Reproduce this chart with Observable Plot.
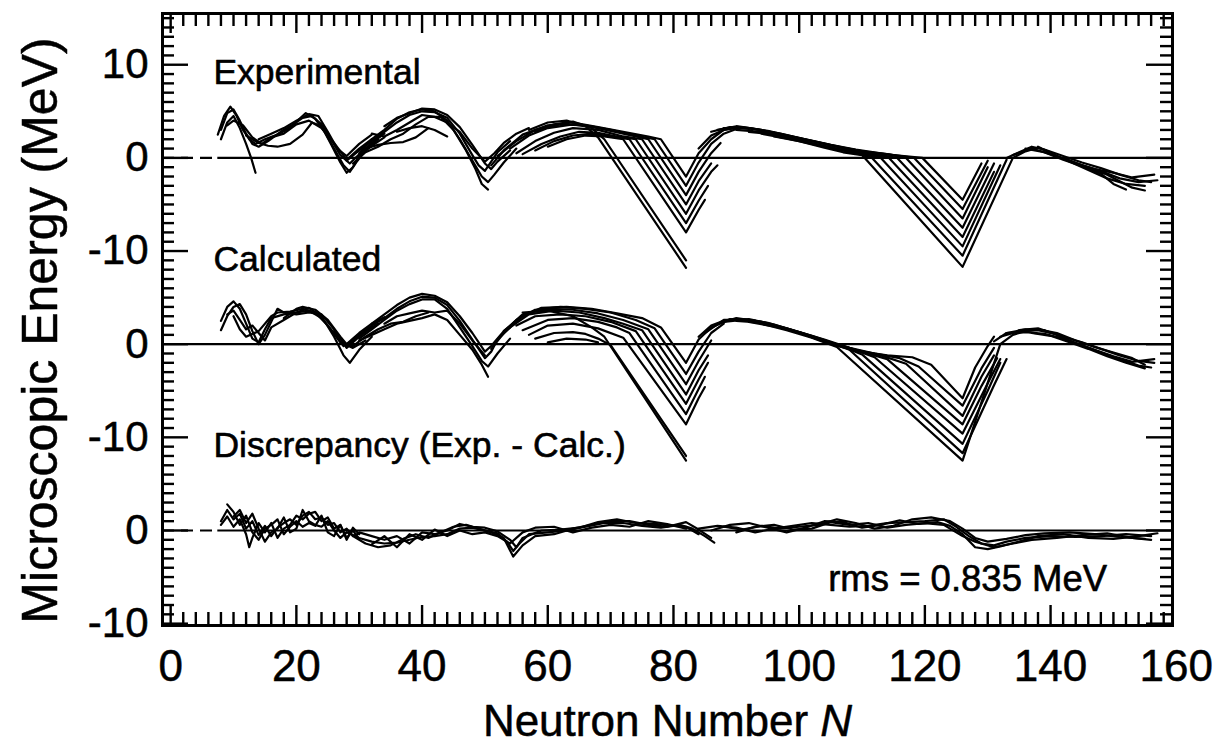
<!DOCTYPE html>
<html><head><meta charset="utf-8">
<script src="https://cdn.jsdelivr.net/npm/d3@7"></script>
<script src="https://cdn.jsdelivr.net/npm/@observablehq/plot@0.6"></script>
<style>html,body{margin:0;padding:0;background:#fff}
#chart svg g[aria-label$="tick label"] text{stroke:black;stroke-width:0.5px}</style>
</head><body><div id="chart"></div>
<script>
// ---------- DATA (N, microscopic energy in MeV) ----------
const panelNames = ["Experimental", "Calculated", "Discrepancy (Exp. - Calc.)"];
const rmsText = "rms = 0.835 MeV";
const xMajorTicks = [0, 20, 40, 60, 80, 100, 120, 140, 160];
const yTickValues = [50, 40, 30, 20, 10, 0, -10];
const yTickLabels = ["10", "0", "-10", "0", "-10", "0", "-10"];

// Experimental
const expLight = [
 [[7.5,2.5],[8.5,4.5],[9.5,5.5],[10.5,4.5],[11.5,3],[12.5,2],[13.5,1.5],[15,2],[17,2.5],[19,3.2],[20.5,4.2],[21.5,4.8],[23,4.2],[24.5,2.8],[26,1],[27.5,-0.8],[28.5,-1.5],[29.5,-0.5],[31,0.8],[33,2]],
 [[8,3],[9,4.8],[10,5.2],[11,4],[12,2.6],[13,1.5],[14,1.2],[15.5,1.8],[17.5,2.8],[19.5,3.6],[21,4.3],[22.5,4.5],[24,3.6],[25.5,2],[27,0.3],[28.5,-0.6],[30,0.4],[32,1.6],[34,2.6]],
 [[8,2],[9,3.8],[10,4.5],[11,3.2],[12,1.5],[12.8,0],[13.5,-1.6]],
 [[9,3.5],[10,4],[11.5,3.5],[13,2.2],[14.5,1.5],[16,2.2],[18,2.6],[20,3.6],[22,4],[24,3.2],[26,1.6],[28,-0.2],[30,1],[32,2]],
 [[12,2.4],[14,1.6],[15.5,1.3],[17,1.2],[19,1.5],[21,2.5],[22.5,3.8],[24,3.4],[25.5,1.5],[27,-0.5],[28,-1.6],[29,-1],[30,0.2],[32,1.3],[34,2.2]],
 [[14,2],[16,2.6],[18,3.2],[20,4],[22,4.7],[23.5,4.5],[25,2.8],[26.5,1],[28,0.2],[30,1.5],[32,2.5]]
];
const expMid = [
 [[28,-0.3],[30,0.8],[32,1.8],[34,2.8],[36,3.8],[38,4.6],[40,5],[42,4.9],[44,4.3],[46,2.6],[48,0.3],[49,-0.8],[50,-1.4],[51,-0.4],[52,0.6],[54,1.8]],
 [[30,0.5],[32,2],[34,3],[36,4.2],[38,4.9],[40,5.2],[42,5],[44,4],[46,2],[48,-0.3],[49.5,-2],[50.5,-2.6],[51.5,-1.8],[53,-0.5],[55,1]],
 [[29,-0.6],[31,0.6],[33,1.2],[35,2],[37,2.6],[39,3.6],[41,4.4],[43,4.4],[45,3],[47,0.8],[48.5,-1.2],[49.5,-2.8],[50.5,-3.4]],
 [[32,2.6],[34,2.3],[36,3],[38,3.8],[40,4.6],[42,4.4],[44,3.8],[46,2.8],[48,1],[50,-0.4],[51.5,0.5],[53,1.6],[55,2.6],[57,3.2]],
 [[31,1],[33,1.4],[35,1.6],[37,1.7],[39,2.2],[41,3.2]],
 [[34,3.4],[36,4.3],[38,4.8],[40,5.3],[42,5.2],[44,4.6],[46,3.3],[48,1.4],[50,-0.6],[51,-1.2],[52,-0.4],[54,0.8]],
 [[36,2.8],[38,3.2],[40,3.4],[42,3],[44,2.3]]
];
const expN82 = [
 [[51,-0.8],[53,0.8],[56,2.5],[60,3.5],[64,3.8],[68,3.3],[72,2.8],[76,2.3],[78,2],[82,-2],[84,0.5],[86,2],[88,3],[90,3.3],[92,3.1]],
 [[52,0.2],[55,1.8],[58,3],[62,3.6],[66,3.5],[70,3],[74,2.4],[77,2],[82,-3],[84,-0.5],[86,1.5],[88,2.6],[90,3.1]],
 [[54,1],[57,2.4],[60,3.2],[64,3.6],[68,3.2],[72,2.6],[76,2],[82,-4],[84,-1.5],[86,0.5],[87.5,1.6]],
 [[55,0.5],[58,1.8],[61,2.7],[64,3.2],[68,3],[72,2.3],[75,2],[82,-5],[84,-2.5],[86,-0.6]],
 [[56,0.4],[59,1.5],[62,2.3],[65,2.8],[68,2.7],[71,2.3],[74,2],[82,-6],[84,-3.5],[86,-1.5],[87,-0.8]],
 [[58,0.8],[61,1.8],[64,2.4],[67,2.6],[70,2.3],[73,2],[82,-7],[84,-4.6],[85.5,-3]],
 [[60,1.2],[63,2],[66,2.4],[69,2.3],[72,2],[82,-8],[84,-5.6],[85,-4.5]],
 [[58,2.8],[61,3.6],[64,3.9],[67,3.2],[69,2],[82,-11]],
 [[57,3],[60,3.8],[63,4],[66,3.4],[68,2.2],[82,-11.8]]
];
const expN126 = [
 [[84,1],[86,2.4],[88,3],[91,3.3],[95,2.9],[99,2.3],[103,1.7],[107,1.1],[111,0.6],[115,0.3],[119.6,0],[126,-4.5],[129,-0.6]],
 [[86,2.8],[89,3.3],[93,3.1],[97,2.6],[101,2],[105,1.4],[109,0.9],[113,0.5],[118.3,0],[126,-5.5],[130,-0.3]],
 [[87,3],[90,3.4],[94,3],[98,2.4],[102,1.8],[106,1.2],[110,0.7],[114,0.4],[117,0],[126,-6.5],[130,-1]],
 [[88,3.2],[92,3.2],[96,2.7],[100,2.1],[104,1.5],[108,0.9],[112,0.4],[115.6,0],[126,-7.5],[131,-0.6]],
 [[90,3],[94,2.8],[98,2.2],[102,1.6],[106,1],[110,0.5],[114.3,0],[126,-8.5],[131,-1.5]],
 [[92,2.8],[96,2.5],[100,1.9],[104,1.2],[108,0.7],[113,0],[126,-9.5],[132,-0.8]],
 [[94,2.6],[98,2.1],[102,1.5],[106,0.9],[109,0.5],[111.6,0],[126,-10.5],[133,-0.2]],
 [[96,2.3],[100,1.8],[104,1.1],[107,0.6],[110,0.3],[126,-11.7],[134,0],[136,0.7],[138,1.1],[140,0.6]]
];
const expHeavy = [
 [[133,0],[135,0.6],[137,1.2],[139,0.9],[142,0.2],[145,-0.5],[148,-1.1],[151,-1.8],[154,-2.4],[156,-2.6]],
 [[134,0.3],[137,1],[140,0.4],[143,-0.3],[146,-1],[149,-1.8],[151,-2.5],[153,-3.2],[155,-3.5]],
 [[136,1],[139,0.6],[142,-0.2],[145,-0.9],[148,-1.7],[150,-2.8],[152,-3.4]],
 [[138,1.2],[141,0.2],[144,-0.6],[147,-1.2],[150,-1.6],[153,-2.1],[156.5,-1.8]],
 [[140,0.5],[143,-0.4],[146,-1.3],[149,-2.2],[152,-2.8],[155,-3]],
 [[142,0],[145,-0.8],[148,-1.4],[151,-2.2],[154,-2.6],[157,-2.4]]
];

// Calculated
const calcLight = [
 [[8,2.5],[9,4],[10,4.6],[11,3.8],[12,2.2],[13,0.6],[14,0.2],[15,1.6],[16,2.8],[18,3.2],[20,3.4],[22,3.6],[24,2.8],[26,1.2],[27.5,-0.2],[29,0.4],[31,1.4],[33,2.2]],
 [[8,1.5],[9,3],[10,4],[11,4.3],[12,3.2],[13,1.4],[14,0],[15,1],[16,2.4],[17,3.8],[18,3.4],[20,3.2],[22,3.4],[24,3.2],[26,1.6],[28,-0.4],[30,0.8],[32,1.8]],
 [[9,3.2],[10,3.6],[11,2.6],[12,1.6],[13,2],[14,1.2],[15,0.4],[16,1.8],[18,2.6],[20,3.4],[22,3.9],[24,3],[26,0.8],[27.5,-1.2],[28.5,-2],[30,-0.6],[32,0.8]],
 [[10,3],[11,1.6],[12,0.8],[14,1.4],[16,3],[17,3.4],[19,3.5],[21,3.8],[23,3.4],[25,2],[27,0.2],[29,-0.4],[31,0.4]],
 [[18,2.8],[20,3.8],[21,4],[23,3.7],[25,2.6],[27,0.8],[28,0],[30,1.2],[32,2.2],[34,2.9]]
];
const calcMid = [
 [[28,-0.3],[30,1],[32,2],[34,2.8],[36,3.8],[38,4.6],[40,5.1],[42,5],[44,4.2],[46,2.5],[48,0.5],[50,-1.5],[51,-0.8],[52,0.5],[54,1.8]],
 [[30,0.6],[32,1.6],[34,2.6],[36,3.6],[38,4.3],[40,4.8],[42,4.8],[44,3.8],[46,1.8],[48,-0.2],[49.5,-1.8],[50.5,-2.4],[52,-1],[54,0.6]],
 [[32,2.2],[34,3.2],[36,4.2],[38,5],[40,5.4],[42,5.2],[44,4.5],[46,3],[48,1.2],[50,-0.8],[51,-0.2],[53,1.4],[55,2.5]],
 [[30,0.4],[32,1],[34,1.6],[36,2.2],[38,2.5],[40,2.8],[42,3.2],[44,2.6],[46,1],[48,-0.6],[49.5,-2.2],[50.5,-3.5]],
 [[34,2.2],[36,3],[38,3.3],[40,3.6],[42,3.4],[44,3.6],[46,2.2],[48,0.4],[50,-1.2]],
 [[26,1.4],[28,-0.1],[29,-0.2],[31,0.8],[33,1.6],[35,2.2],[37,2.4],[39,3],[41,3.4]]
];
const calcN82 = [
 [[51,-0.5],[53,1.2],[56,3],[59,3.9],[63,4],[67,3.8],[71,3.3],[75,2.8],[78,1.8],[82,-2],[84,0.5],[86,1.8],[88,2.4]],
 [[52,0.5],[55,2.6],[58,3.7],[62,4],[66,3.8],[70,3.4],[74,2.6],[77,1.7],[82,-3.2],[84,-0.8],[86,1.2],[88,2.2]],
 [[53,1.4],[56,3.2],[60,3.8],[64,3.7],[68,3.3],[72,2.6],[76,1.6],[82,-4.3],[84,-1.8],[86,0.4]],
 [[54,1.8],[57,3.2],[61,3.6],[65,3.4],[69,2.8],[72,2.2],[75,1.5],[82,-5.4],[84,-2.8],[85.5,-1.2]],
 [[55,2],[58,3],[62,3.2],[66,3],[70,2.4],[74,1.4],[82,-6.4],[84,-3.8],[85.5,-2]],
 [[56,1.5],[60,2.6],[64,2.8],[68,2.4],[71,1.8],[73,1.2],[82,-7.5],[84,-4.8],[85,-3.5]],
 [[57,1],[60,2],[64,2.2],[68,1.7],[72,0.7],[82,-8.6],[84,-5.8],[85,-4.6]],
 [[58,0.6],[61,1.2],[64,1.3],[66,1.1],[68,0.6],[70,-0.1],[82,-12]],
 [[56,3.4],[60,3.6],[64,3],[67,1.8],[69,0.8],[82,-12.5]],
 [[60,0.2],[63,0.6],[66,0.5],[68,0.2]]
];
const calcN126 = [
 [[84,0.8],[86,2],[88,2.5],[91,2.7],[95,2.3],[99,1.5],[103,0.5],[106,-0.2],[110,-0.8],[114,-1.2],[118,-1.4],[121,-2.2],[126,-5.8],[128,-2.5],[130,-0.2],[131,0.8]],
 [[85,1.2],[88,2.6],[92,2.6],[96,2],[100,1.2],[104,0.3],[108,-0.4],[112,-1],[116,-1.5],[119,-2.4],[126,-6.6],[129,-2.6],[131,-0.4]],
 [[86,1.8],[89,2.7],[93,2.5],[97,1.8],[101,1],[105,0.1],[109,-0.6],[113,-1.2],[117,-2.1],[126,-7.7],[129,-3.5],[131,-1.2]],
 [[87,2.2],[90,2.8],[94,2.4],[98,1.6],[102,0.8],[106,0],[110,-0.8],[114,-1.6],[126,-8.6],[129,-4.5],[131.5,-1.5]],
 [[88,2.4],[92,2.7],[96,2.1],[100,1.3],[104,0.5],[108,-0.4],[112,-1.4],[126,-9.6],[130,-4.2],[132,-1.6]],
 [[90,2.5],[94,2.3],[98,1.7],[102,0.9],[106,0],[110,-1.1],[126,-10.7],[130,-5],[132,-2]],
 [[92,2.4],[96,1.9],[100,1.3],[104,0.4],[108,-0.6],[126,-11.7],[131,-4.4],[133,-1.6]],
 [[94,2.2],[98,1.5],[102,0.7],[106,-0.3],[126,-12.5],[132,0],[134,1],[136,1.4],[138,1.5],[140,1.2]]
];
const calcHeavy = [
 [[131,0.3],[133,1.2],[136,1.6],[139,1.5],[142,0.8],[145,0.2],[148,-0.5],[151,-1.2],[154,-1.8],[156.5,-2]],
 [[132,0.8],[135,1.4],[138,1.6],[141,1.2],[144,0.4],[147,-0.3],[150,-0.9],[153,-1.5],[155,-2.2]],
 [[133,1.2],[136,1.3],[139,1.1],[142,0.6],[145,-0.1],[148,-0.9],[151,-1.6],[154,-2.3],[156,-2.5]],
 [[135,1.5],[138,1.7],[141,1],[144,0.1],[147,-0.6],[150,-1.3],[153,-1.9],[156.5,-1.6]],
 [[137,1.2],[140,0.9],[143,0.2],[146,-0.5],[149,-1.3],[152,-2],[155,-2.6]]
];

// Discrepancy (Exp. - Calc.)
const discLight = [
 [[8,1],[9,2.2],[10,1.2],[11,1.8],[12,0.2],[13,1],[14,-0.5],[15,0.5],[16,-0.6],[17,0.3],[18,0.8],[19,1.2],[20,0.6],[21,1.6],[22,2],[23,1.2],[24,1.4],[25,0.6],[26,0.8],[27,-0.2],[28,0.2],[29,-0.6],[30,-0.3]],
 [[8,0.6],[9,1.5],[10,0.4],[11,1.2],[12,-0.4],[12.5,-1.8],[13,-0.8],[14,0.8],[15,-0.2],[16,0.8],[17,-0.8],[18,0.2],[19,0.6],[20,1.6],[21,1.2],[22,1.8],[23,2],[24,1],[25,1.4],[26,0.2],[27,0.6],[28,-0.8],[29,0],[30,-0.9]],
 [[9,2.8],[10,2],[11,0.6],[12,1.6],[13,-0.2],[14,-1],[15,0.2],[16,0.6],[17,1.2],[18,-0.4],[19,0.4],[20,1],[21,0.4],[22,0.8],[23,0.5],[24,1.6],[25,-0.2],[26,-0.6],[27,0.6],[28,-1],[29,0.3],[30,-0.4]],
 [[10,1.5],[11,2.2],[12,0.8],[13,1.8],[14,0.2],[15,-1.2],[16,-0.2],[17,0.2],[18,1.4],[19,-0.2],[20,0.2],[21,2.2],[22,1],[23,0.6],[24,0.4],[25,1],[26,0],[27,-0.8],[28,-0.2]]
];
const discMid = [
 [[28,-0.2],[30,-0.8],[32,-1.2],[34,-1.4],[36,-1.3],[38,-1],[40,-0.7],[42,-0.6],[44,-0.4],[46,0.2],[48,0.3],[50,0],[52,-0.3],[53.5,-1.2],[54.5,-2.2],[55.5,-1.4],[57,-0.4],[60,-0.2],[63,0],[66,0.4],[69,0.8],[72,0.8],[75,0.5],[78,0.3],[81,0.6],[83,0.2],[85,-0.6],[86.5,-1.3]],
 [[29,-0.6],[31,-1.4],[33,-1.8],[35,-1.6],[37,-0.9],[39,-0.4],[41,-0.8],[43,-0.2],[45,0.4],[47,0.6],[49,0.2],[51,-0.2],[53,-0.8],[54.5,-2.8],[56,-1.6],[58,-0.6],[61,-0.4],[64,0.2],[67,0.6],[70,1],[73,1],[76,0.6],[79,0.4],[82,0.9],[84,0.1],[86,-0.8]],
 [[30,-0.2],[32,-0.6],[34,-1],[36,-0.6],[38,-1.4],[40,-0.2],[42,-0.4],[44,0],[46,0.7],[48,0.4],[50,0.3],[52,-0.1],[54,-1],[55,-1.8],[56,-0.8],[59,0],[62,0.1],[65,0.3],[68,0.9],[71,1.2],[74,0.8],[77,0.7],[80,0.5],[82,0.4],[84,-0.4]],
 [[32,-1.5],[34,-0.6],[36,-1.8],[38,-0.4],[40,-1],[42,0.1],[44,-0.6],[46,0],[48,-0.4],[50,-0.2],[52,-0.6],[54,-1.4],[56,-0.2],[58,0.3],[61,0.4],[64,-0.2],[67,0.3],[70,0.6],[73,0.4],[76,1],[79,0.7],[82,0.2]]
];
const discHeavy = [
 [[84,0.2],[87,0.5],[90,0.3],[93,-0.2],[96,0.2],[99,0.5],[102,0.8],[105,0.6],[108,0.4],[111,0.5],[114,0.8],[117,0.9],[120,1],[123,1.2],[125,0.4],[127,-0.6],[129,-1.4],[131,-1.6],[133,-1.2],[136,-0.8],[140,-0.6],[144,-0.7],[148,-0.6],[152,-0.4],[156,-0.6]],
 [[86,0],[89,0.6],[92,0.8],[95,0.3],[98,-0.2],[101,0.3],[104,1],[107,0.9],[110,0.3],[113,0.6],[116,1.1],[119,0.7],[122,0.9],[124,0.5],[126,-0.4],[128,-1.8],[130,-2],[132,-1.7],[135,-1.2],[138,-0.6],[142,-0.4],[146,-0.8],[150,-0.9],[154,-0.6],[157,-0.3]],
 [[88,0.4],[91,0.1],[94,0.5],[97,0.2],[100,0.4],[103,0.6],[106,1.2],[109,0.8],[112,0.2],[115,0.5],[118,1.2],[121,1.4],[124,1],[126,0.2],[128,-0.8],[130,-1.2],[133,-0.9],[136,-0.5],[139,-0.3],[143,-0.2],[147,-0.4],[151,-0.7],[155,-0.9]],
 [[90,-0.2],[93,0.4],[96,0.6],[99,0.1],[102,0.2],[105,0.9],[108,0.6],[111,0.8],[114,0.3],[117,0.6],[120,0.8],[123,0.6],[126,-0.6],[128,-1.2],[131,-1.8],[134,-1.4],[137,-1],[141,-0.8],[145,-0.5],[149,-0.3],[153,-0.8],[156,-1]]
];

// ---------- BUILD ----------
const panelOffsets = [40, 20, 0]; // each panel stacked on one continuous axis
const panelGroups = [
  [expLight, expMid, expN82, expN126, expHeavy],
  [calcLight, calcMid, calcN82, calcN126, calcHeavy],
  [discLight, discMid, discHeavy]
];
const rows = [];
let sid = 0;
panelGroups.forEach((groups, p) => {
  for (const g of groups) for (const chain of g) {
    sid++;
    for (const [n, e] of chain) rows.push({series: sid, N: n, E: e, Y: e + panelOffsets[p]});
  }
});

const W = 1216, H = 746, mL = 162, mR = 44, mT = 13, mB = 121;
const xDomain = [-1.3, 159.4];
const yDomain = [-10.2, 55.5];
const pxX = (W - mL - mR) / (xDomain[1] - xDomain[0]);
const pxY = (H - mT - mB) / (yDomain[1] - yDomain[0]);
const xMinor = d3.range(0, 160, 2).filter(d => d % 20 !== 0);
const xMajor = xMajorTicks.filter(d => d <= xDomain[1]);
const yMinor = d3.range(-10, 56, 1).filter(d => d % 10 !== 0);
const yLabelMap = new Map(yTickValues.map((v, i) => [v, yTickLabels[i]]));
const font = "Liberation Sans, Arial, Helvetica, sans-serif";

const labelRows = panelNames.map((t, i) => ({t, N: 6.8, Y: panelOffsets[i] + 7.9}));

// inward tick helpers (lengths in pixels)
const xTicks = (vals, len) => [
  Plot.ruleX(vals, {x: d => d, y1: yDomain[0], y2: yDomain[0] + len / pxY, stroke: "black", strokeWidth: 2.4}),
  Plot.ruleX(vals, {x: d => d, y1: yDomain[1] - len / pxY, y2: yDomain[1], stroke: "black", strokeWidth: 2.4})
];
const yTicks = (vals, len) => [
  Plot.ruleY(vals, {y: d => d, x1: xDomain[0], x2: xDomain[0] + len / pxX, stroke: "black", strokeWidth: 2.4}),
  Plot.ruleY(vals, {y: d => d, x1: xDomain[1] - len / pxX, x2: xDomain[1], stroke: "black", strokeWidth: 2.4})
];

const chart = Plot.plot({
  width: W, height: H,
  marginLeft: mL, marginRight: mR, marginTop: mT, marginBottom: mB,
  style: {fontFamily: font, background: "white", color: "black"},
  x: {domain: xDomain},
  y: {domain: yDomain},
  marks: [
    // zero lines
    Plot.ruleY([40, 0], {x1: xDomain[0], x2: 7.5, stroke: "black", strokeWidth: 2.2, strokeDasharray: "12,7"}),
    Plot.ruleY([40, 0], {x1: 7.5, x2: xDomain[1], stroke: "black", strokeWidth: 2.2}),
    Plot.ruleY([20], {stroke: "black", strokeWidth: 2.2}),
    // curves
    Plot.line(rows, {x: "N", y: "Y", z: "series", stroke: "black", strokeWidth: 2.2, strokeLinejoin: "round"}),
    // ticks (inward)
    ...xTicks(xMinor, 13),
    ...xTicks(xMajor, 20),
    ...yTicks(yMinor, 12),
    ...yTicks(yTickValues, 26),
    // tick labels
    Plot.axisX(xMajorTicks, {anchor: "bottom", tickSize: 0, tickPadding: 24, fontSize: 44, label: null, tickFormat: d => String(d)}),
    Plot.axisY(yTickValues, {anchor: "left", tickSize: 0, tickPadding: 14, fontSize: 42, label: null, tickFormat: d => yLabelMap.get(d)}),
    Plot.frame({stroke: "black", strokeWidth: 3}),
    // panel labels
    Plot.text(labelRows, {x: "N", y: "Y", text: "t", textAnchor: "start", lineAnchor: "bottom", fontSize: 35.5, fill: "black", stroke: "black", strokeWidth: 0.6}),
    Plot.text([rmsText], {x: 149, y: -6.5, text: d => d, textAnchor: "end", lineAnchor: "bottom", fontSize: 36.5, fill: "black", stroke: "black", strokeWidth: 0.6}),
    // axis titles
    Plot.text(["Neutron Number N"], {frameAnchor: "bottom", dy: 110, text: d => d, textAnchor: "middle", lineAnchor: "bottom", fontSize: 44, fill: "black", stroke: "black", strokeWidth: 0.5}),
    Plot.text(["Microscopic Energy (MeV)"], {frameAnchor: "left", dx: -122, dy: 11, rotate: -90, text: d => d, textAnchor: "middle", lineAnchor: "middle", fontSize: 50, fill: "black", stroke: "black", strokeWidth: 0.5})
  ]
});
document.getElementById("chart").appendChild(chart);
// italic N in x title
chart.querySelectorAll("text").forEach(t => {
  if (t.textContent === "Neutron Number N") {
    t.innerHTML = 'Neutron Number <tspan font-style="italic">N</tspan>';
  }
});
</script>
</body></html>
